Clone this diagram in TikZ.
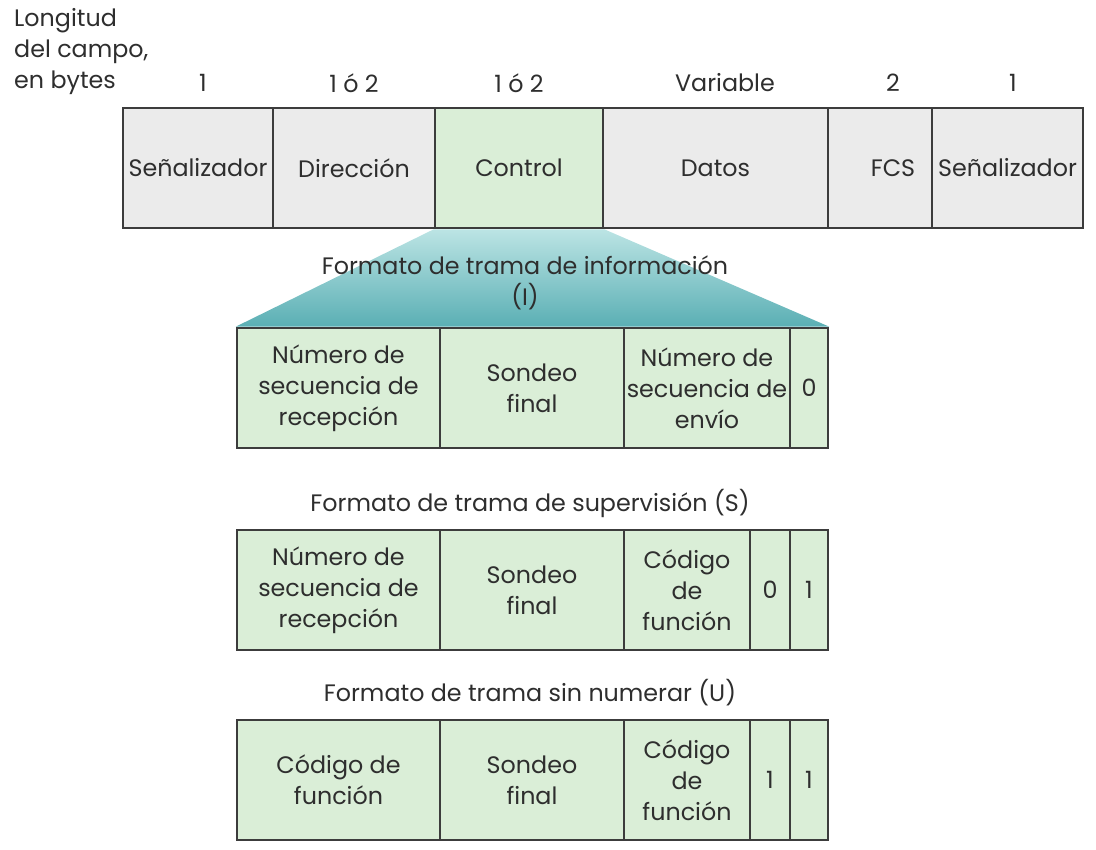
\documentclass[tikz,border=0pt]{standalone}
\usepackage{fontspec}
\setmainfont{Poppins}
\usepackage{tikz}
\usetikzlibrary{shapes,positioning}
\definecolor{borde}{HTML}{3C3C3C}
\definecolor{gris}{HTML}{EBEBEB}
\definecolor{verde}{HTML}{DAEED7}
\definecolor{texto}{HTML}{2E2E2E}
\definecolor{tealclaro}{HTML}{BCE4E4}
\definecolor{tealoscuro}{HTML}{5AAFB4}
\tikzstyle{campo} = [rectangle, draw=borde, line width=2.6pt, fill=gris, text=texto, align=center, minimum height=120pt, inner sep=0pt]
\tikzstyle{ctrl} = [campo, fill=verde]
\tikzstyle{etiqueta} = [text=texto, align=center, inner sep=0pt]

\begin{document}
\begin{tikzpicture}[x=1pt, y=-1pt, font=\fontsize{23.8}{31}\selectfont]
\useasboundingbox (0,0) rectangle (1096,850);
\node [etiqueta, align=left, anchor=west] (longitud) at (14,52) {Longitud\\del campo,\\en bytes};
\node [campo, minimum width=150pt] (senal-a) at (198,168) {Señalizador};
\node [campo, minimum width=162pt] (direccion) at (354,168) {Dirección};
\node [ctrl, minimum width=168pt] (control) at (519,168) {Control};
\node [campo, minimum width=225pt] (datos) at (715.5,168) {Datos};
\node [campo, minimum width=104pt] (fcs) at (880,168) {\hspace*{26pt}FCS};
\node [campo, minimum width=151pt] (senal-b) at (1007.5,168) {Señalizador};
\node [etiqueta] (len-senal-a) at (203,83) {1};
\node [etiqueta] (len-direccion) at (354,83) {1 ó 2};
\node [etiqueta] (len-control) at (519,83) {1 ó 2};
\node [etiqueta] (len-datos) at (725,83) {Variable};
\node [etiqueta] (len-fcs) at (893,83) {2};
\node [etiqueta] (len-senal-b) at (1013,83) {1};
% trama I
\node [ctrl, minimum width=203pt] (i-rec) at (338.5,388) {Número de\\secuencia de\\recepción};
\node [ctrl, minimum width=184pt] (i-sondeo) at (532,388) {Sondeo\\final};
\node [ctrl, minimum width=166pt] (i-env) at (707,388) {Número de\\secuencia de\\envío};
\node [ctrl, minimum width=38pt] (i-bit) at (809,388) {0};
\shade [top color=tealclaro, bottom color=tealoscuro] (control.south west) -- (control.south east) -- (i-bit.north east) -- (i-rec.north west) -- cycle;
\node [etiqueta] (titulo-i) at (525,283) {Formato de trama de información\\(I)};
% trama S
\node [etiqueta] (titulo-s) at (530,503) {Formato de trama de supervisión (S)};
\node [ctrl, minimum width=203pt] (s-rec) at (338.5,590) {Número de\\secuencia de\\recepción};
\node [ctrl, minimum width=184pt] (s-sondeo) at (532,590) {Sondeo\\final};
\node [ctrl, minimum width=126pt] (s-cod) at (687,590) {Código\\de\\función};
\node [ctrl, minimum width=40pt] (s-bit-a) at (770,590) {0};
\node [ctrl, minimum width=38pt] (s-bit-b) at (809,590) {1};
% trama U
\node [etiqueta] (titulo-u) at (530,693) {Formato de trama sin numerar (U)};
\node [ctrl, minimum width=203pt] (u-cod-a) at (338.5,780) {Código de\\función};
\node [ctrl, minimum width=184pt] (u-sondeo) at (532,780) {Sondeo\\final};
\node [ctrl, minimum width=126pt] (u-cod-b) at (687,780) {Código\\de\\función};
\node [ctrl, minimum width=40pt] (u-bit-a) at (770,780) {1};
\node [ctrl, minimum width=38pt] (u-bit-b) at (809,780) {1};
\end{tikzpicture}
\end{document}
